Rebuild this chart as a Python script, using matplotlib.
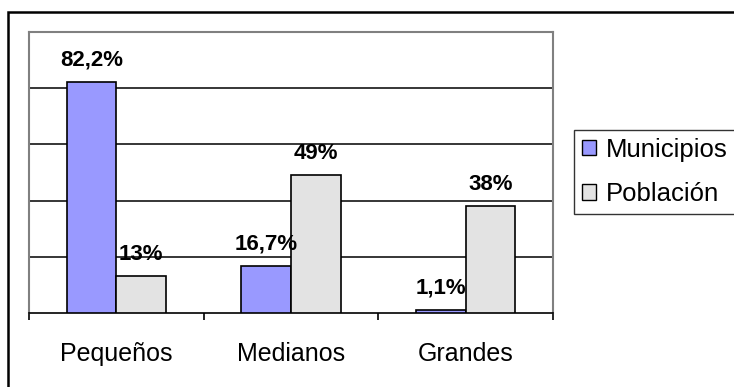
import matplotlib.pyplot as plt
from matplotlib.patches import Rectangle
import numpy as np

plt.rcParams['font.family'] = ['Liberation Sans', 'DejaVu Sans']

categorias = ['Pequeños', 'Medianos', 'Grandes']
municipios = [82.2, 16.7, 1.1]
poblacion = [13, 49, 38]
etiq_mun = ['82,2%', '16,7%', '1,1%']
etiq_pob = ['13%', '49%', '38%']

fig = plt.figure(figsize=(7.34, 3.87), dpi=100)
ax = fig.add_axes([29 / 734, 1 - 313 / 387, 524 / 734, 281 / 387])

x = np.arange(len(categorias))
w = 0.285
b1 = ax.bar(x - w / 2, municipios, w, color='#9999ff', edgecolor='black', linewidth=1.2,
            label='Municipios', zorder=3)
b2 = ax.bar(x + w / 2, poblacion, w, color='#e3e3e3', edgecolor='black', linewidth=1.2,
            label='Población', zorder=3)

for bars, labels in ((b1, etiq_mun), (b2, etiq_pob)):
    for r, t in zip(bars, labels):
        ax.annotate(t, (r.get_x() + r.get_width() / 2, r.get_height()),
                    xytext=(0, 12), textcoords='offset points', ha='center', va='baseline',
                    fontsize=16, fontweight='bold', zorder=4)

ax.set_xlim(-0.5, 2.5)
ax.set_ylim(0, 100)
ax.set_yticks([20, 40, 60, 80])
ax.yaxis.grid(True, color='black', linewidth=1.1, zorder=1)
ax.tick_params(axis='y', left=False, labelleft=False)

ax.set_xticks([-0.5, 0.5, 1.5, 2.5])
ax.set_xticklabels([])
ax.set_xticks(x, minor=True)
ax.set_xticklabels(categorias, minor=True, fontsize=18)
ax.tick_params(axis='x', which='major', direction='out', length=5, width=1.2, color='black')
ax.tick_params(axis='x', which='minor', length=0, pad=21)

for s in ('left', 'top', 'right'):
    ax.spines[s].set_color('#808080')
    ax.spines[s].set_linewidth(1.5)
ax.spines['bottom'].set_color('black')
ax.spines['bottom'].set_linewidth(1.2)

leg = ax.legend(loc='upper left', bbox_to_anchor=(574 / 734, 1 - 130 / 387), bbox_transform=fig.transFigure,
                fontsize=18.5, frameon=True, fancybox=False, edgecolor='black', handlelength=0.55,
                handleheight=0.55, handletextpad=0.4, borderpad=0.3, labelspacing=0.8,
                borderaxespad=0)
leg.get_frame().set_linewidth(1.0)
for h in leg.legend_handles:
    h.set_linewidth(1.0)

fig.patches.append(Rectangle((8 / 734, -0.1), 1.2, 1 - 12 / 387 + 0.1, transform=fig.transFigure,
                             fill=False, edgecolor='black', linewidth=1.8))

fig.savefig('out.png', dpi=100)
